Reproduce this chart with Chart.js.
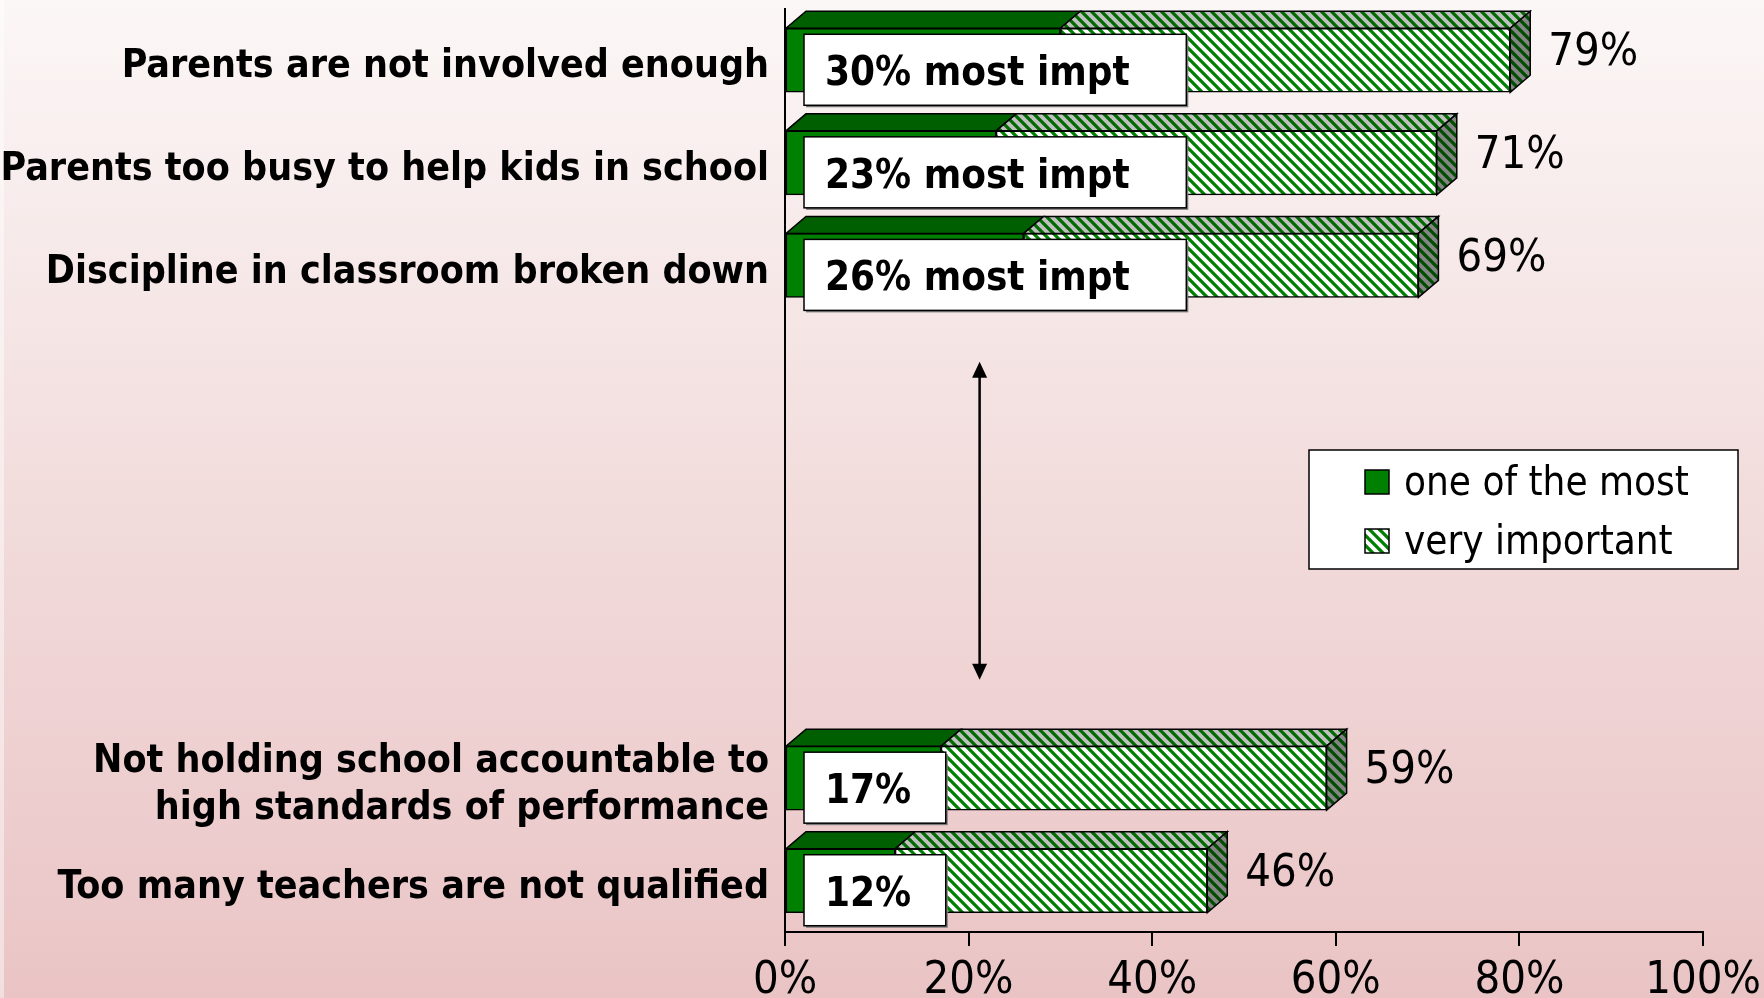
<!DOCTYPE html>
<html>
<head>
<meta charset="utf-8">
<script src="https://cdn.jsdelivr.net/npm/chart.js@4.4.0/dist/chart.umd.min.js"></script>
<style>
  html, body { margin: 0; padding: 0; overflow: hidden; background: #f2dcdc; }
  #wrap { width: 1764px; height: 998px; position: relative; }
  canvas { display: block; }
</style>
</head>
<body>
<div id="wrap"><canvas id="c" width="1764" height="998"></canvas></div>
<script>
// ---------------- data ----------------
const categories = [
  'Parents are not involved enough',
  'Parents too busy to help kids in school',
  'Discipline in classroom broken down',
  ['Not holding school accountable to', 'high standards of performance'],
  'Too many teachers are not qualified'
];
const mostImportant = [30, 23, 26, 17, 12];          // "one of the most" (%)
const veryImportantTotal = [79, 71, 69, 59, 46];     // total "very important" (%)
const innerLabelSuffix = [' most impt', ' most impt', ' most impt', '', ''];
const seriesNames = ['one of the most', 'very important'];
const xTickValues = [0, 20, 40, 60, 80, 100];
const spacerAfter = 3;   // empty category slots inserted after the 3rd item
const spacerCount = 4;

// ---------------- build chart arrays ----------------
function withSpacers(arr, fill) {
  const out = arr.slice(0, spacerAfter);
  for (let i = 0; i < spacerCount; i++) out.push(fill);
  return out.concat(arr.slice(spacerAfter));
}
const labels = withSpacers(categories, '');
const mostData = withSpacers(mostImportant, null);
const restData = withSpacers(veryImportantTotal.map((t, i) => t - mostImportant[i]), null);
const totalData = withSpacers(veryImportantTotal, null);
const suffixData = withSpacers(innerLabelSuffix, null);

// ---------------- styles ----------------
const FONT = "'DejaVu Sans Condensed', 'DejaVu Sans', sans-serif";
const GREEN = '#008000';
const DARK_GREEN = '#005f00';
const DX = 20, DY = 17;

const ctx = document.getElementById('c').getContext('2d');
function stripePattern(bg, fg, size, lw) {
  const c = document.createElement('canvas');
  c.width = c.height = size;
  const g = c.getContext('2d');
  g.fillStyle = bg; g.fillRect(0, 0, size, size);
  g.strokeStyle = fg; g.lineWidth = lw;
  g.beginPath();
  for (let k = -1; k <= 1; k++) { g.moveTo(k * size - 1, -1); g.lineTo(k * size + size + 1, size + 1); }
  g.stroke();
  return ctx.createPattern(c, 'repeat');
}
const frontStripes = stripePattern('#ffffff', GREEN, 10, 3.3);
const topStripes = stripePattern('#c0c0c0', '#006a00', 10, 3.3);
const sideStripes = stripePattern('#858585', '#004d00', 10, 3.3);

function poly(c, pts, fill) {
  c.beginPath();
  c.moveTo(pts[0][0], pts[0][1]);
  for (let i = 1; i < pts.length; i++) c.lineTo(pts[i][0], pts[i][1]);
  c.closePath();
  c.fillStyle = fill; c.fill();
  c.lineWidth = 1.5; c.strokeStyle = '#000'; c.stroke();
}

const decor = {
  id: 'decor',
  beforeDraw(chart) {
    const c = chart.ctx, W = chart.width, H = chart.height;
    const g = c.createLinearGradient(0, 0, 0, H);
    g.addColorStop(0, '#fbf7f6');
    g.addColorStop(0.5, '#f2dcdc');
    g.addColorStop(1, '#eac4c5');
    c.save();
    c.fillStyle = g; c.fillRect(0, 0, W, H);
    c.fillStyle = 'rgba(255,255,255,0.45)'; c.fillRect(0, 0, 4, H);
    c.restore();
  },
  afterDatasetsDraw(chart) {
    const c = chart.ctx;
    const m0 = chart.getDatasetMeta(0), m1 = chart.getDatasetMeta(1);
    const xs = chart.scales.x, ys = chart.scales.y;
    c.save();
    m0.data.forEach((el0, i) => {
      if (mostData[i] == null) return;
      const el1 = m1.data[i];
      const p0 = el0.getProps(['x', 'y', 'base', 'height'], true);
      const p1 = el1.getProps(['x', 'y', 'base', 'height'], true);
      const top = p0.y - p0.height / 2, bot = p0.y + p0.height / 2;
      // top faces
      poly(c, [[p0.base, top], [p0.x, top], [p0.x + DX, top - DY], [p0.base + DX, top - DY]], DARK_GREEN);
      poly(c, [[p1.base, top], [p1.x, top], [p1.x + DX, top - DY], [p1.base + DX, top - DY]], topStripes);
      // side face
      poly(c, [[p1.x, top], [p1.x + DX, top - DY], [p1.x + DX, bot - DY], [p1.x, bot]], sideStripes);

      // inner white label box
      const txt = mostData[i] + '%' + suffixData[i];
      c.font = 'bold 40px ' + FONT;
      const tw = c.measureText(txt).width;
      const bx = p0.base + 18, by = top + 6, bw = tw + 21 + 26 + 0.1 * tw, bh = 71;
      c.fillStyle = '#7a7a7a'; c.fillRect(bx + 2, by + 2, bw, bh);
      c.fillStyle = '#ffffff'; c.fillRect(bx, by, bw, bh);
      c.lineWidth = 1.5; c.strokeStyle = '#000'; c.strokeRect(bx, by, bw, bh);
      c.fillStyle = '#000'; c.textAlign = 'left'; c.textBaseline = 'middle';
      c.fillText(txt, bx + 21, by + bh / 2 + 5);

      // total value label
      c.font = '45px ' + FONT;
      c.fillText(totalData[i] + '%', p1.x + DX + 18, p0.y - DY / 2 + 2);
    });

    // double arrow in the gap
    const ax = xs.getPixelForValue(21.2);
    const y1 = ys.getPixelForValue(2.94), y2 = ys.getPixelForValue(6.04);
    c.strokeStyle = '#000'; c.lineWidth = 2.5;
    c.beginPath(); c.moveTo(ax, y1 + 12); c.lineTo(ax, y2 - 12); c.stroke();
    c.fillStyle = '#000';
    c.beginPath(); c.moveTo(ax, y1); c.lineTo(ax - 7.5, y1 + 16); c.lineTo(ax + 7.5, y1 + 16); c.closePath(); c.fill();
    c.beginPath(); c.moveTo(ax, y2); c.lineTo(ax - 7.5, y2 - 16); c.lineTo(ax + 7.5, y2 - 16); c.closePath(); c.fill();
    c.restore();
  },
  afterDraw(chart) {
    // legend box
    const c = chart.ctx;
    const lx = 1309, ly = 450, lw = 429, lh = 119;
    c.save();
    c.fillStyle = '#ffffff'; c.fillRect(lx, ly, lw, lh);
    c.lineWidth = 1.5; c.strokeStyle = '#000'; c.strokeRect(lx, ly, lw, lh);
    const fills = [GREEN, frontStripes];
    c.font = '40px ' + FONT; c.textAlign = 'left'; c.textBaseline = 'middle';
    chart.data.datasets.forEach((ds, k) => {
      const cy = ly + 32 + k * 59;
      c.fillStyle = fills[k]; c.fillRect(lx + 56, cy - 12, 24, 24);
      c.strokeStyle = '#000'; c.lineWidth = 1.5; c.strokeRect(lx + 56, cy - 12, 24, 24);
      c.fillStyle = '#000'; c.fillText(ds.label, lx + 95, cy + 3);
    });
    c.restore();
  }
};

new Chart(ctx, {
  type: 'bar',
  data: {
    labels: labels,
    datasets: [
      { label: seriesNames[0], data: mostData, backgroundColor: GREEN, borderColor: '#000', borderWidth: 1.5, borderSkipped: false },
      { label: seriesNames[1], data: restData, backgroundColor: frontStripes, borderColor: '#000', borderWidth: 1.5, borderSkipped: false }
    ]
  },
  options: {
    indexAxis: 'y',
    responsive: false,
    animation: false,
    devicePixelRatio: 1,
    layout: { padding: { top: 9, right: 61, left: 0, bottom: 0 } },
    datasets: { bar: { barThickness: 64 } },
    plugins: { legend: { display: false }, tooltip: { enabled: false } },
    scales: {
      x: {
        stacked: true, min: 0, max: 100,
        afterBuildTicks(scale) { scale.ticks = xTickValues.map(v => ({ value: v })); },
        afterFit(scale) { scale.height = 66; scale.paddingLeft = 0; scale.paddingRight = 0; },
        ticks: { callback: v => v + '%', color: '#000', padding: 8, maxRotation: 0, font: { family: FONT, size: 45 } },
        grid: { display: true, drawOnChartArea: false, drawTicks: true, tickLength: 14, color: '#000', lineWidth: 2 },
        border: { display: true, color: '#000', width: 2 }
      },
      y: {
        stacked: true,
        afterFit(scale) { scale.width = 785; scale.paddingTop = 0; scale.paddingBottom = 0; },
        ticks: { color: '#000', padding: 16, labelOffset: 7, autoSkip: false, font: { family: FONT, size: 39, weight: 'bold' } },
        grid: { display: false, drawTicks: false },
        border: { display: true, color: '#000', width: 2 }
      }
    }
  },
  plugins: [decor]
});
</script>
</body>
</html>
